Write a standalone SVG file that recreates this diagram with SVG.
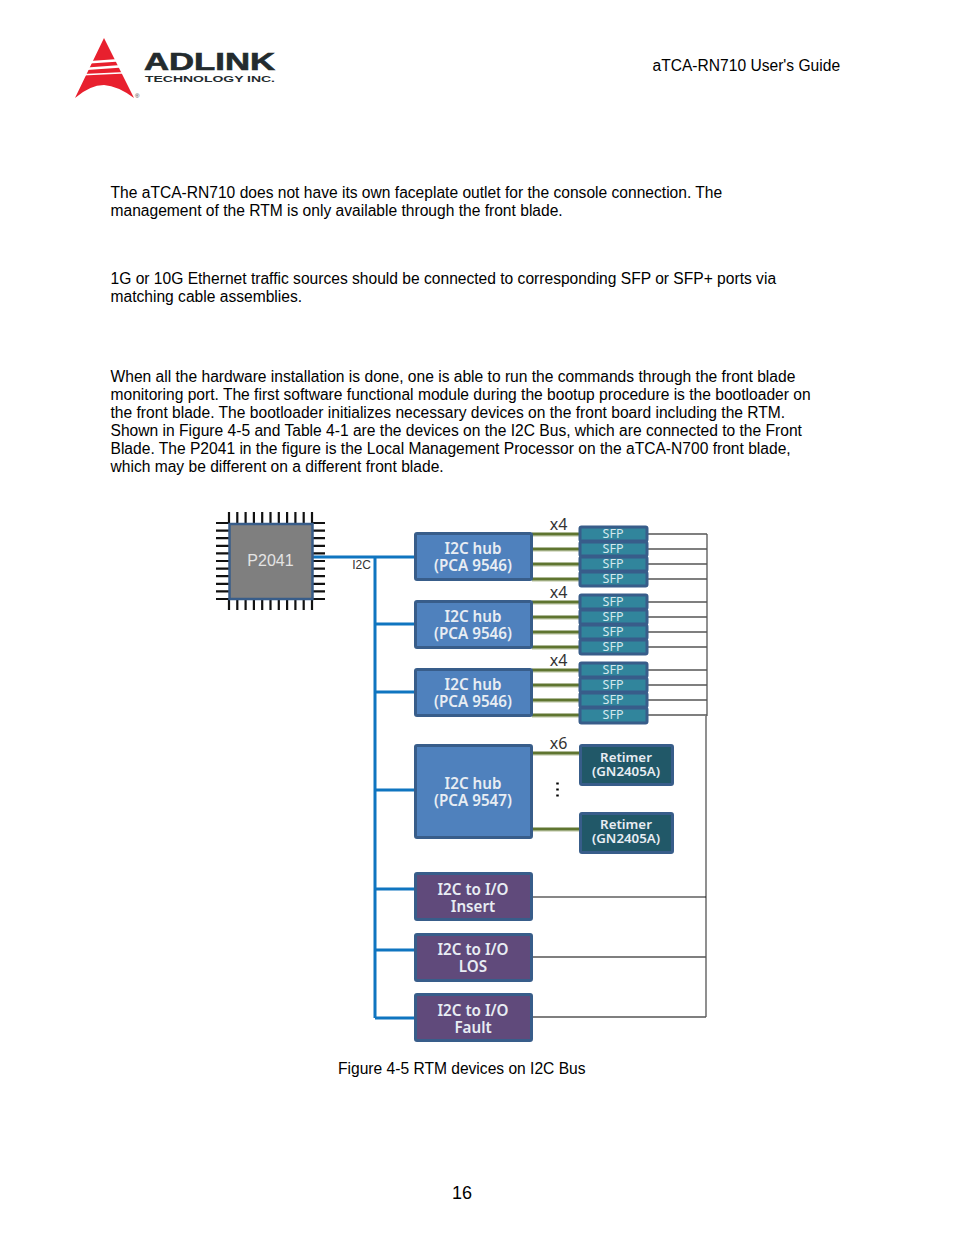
<svg xmlns="http://www.w3.org/2000/svg" width="954" height="1235" viewBox="0 0 954 1235">
<style>
text{font-family:"Liberation Sans",Arial,sans-serif}
.b{font-size:15.6px;fill:#000}
.d{font-family:"Noto Sans","DejaVu Sans",sans-serif;text-anchor:middle;font-weight:600;font-size:15.200px;fill:#e8edf3}
.r{font-size:13.300px}
.s{font-family:"Noto Sans","DejaVu Sans",sans-serif;text-anchor:middle;font-size:12.5px;fill:#d5e8ee}
.x{font-family:"Noto Sans","DejaVu Sans",sans-serif;font-size:16px;fill:#333;text-anchor:middle}
rect{rx:1.500px}
.hub{fill:#4f81bd;stroke:#385d8a;stroke-width:3}
.ret{fill:#215868;stroke:#385d8a;stroke-width:3}
.io{fill:#604a7b;stroke:#385d8a;stroke-width:3}
.sfp{fill:#31859c;stroke:#385d8a;stroke-width:3}
.blue{stroke:#0f75c0;stroke-width:3;fill:none}
.green{stroke:#5f7530;stroke-width:3;fill:none}
.shade{stroke:#cfd6bd;stroke-width:1.500;fill:none}
.gray{stroke:#555;stroke-width:1.3;fill:none}
.pin{stroke:#111;stroke-width:2.200;fill:none}
</style>
<rect width="954" height="1235" fill="#fff" style="rx:0"/>
<g id="logo">
<path d="M104 38L134 98Q118 86 104 85Q90 85 75 98Z" fill="#e8202e"/>
<path d="M90 61L118 59L119.500 61.500L90 63.500ZM87 67.500L121 65L122.500 67.500L87 70ZM83 74L125 72L125.800 73.500L83 75.500Z" fill="#fff"/>
<text x="144" y="70" font-size="24" font-weight="700" fill="#232b2e" textLength="131" lengthAdjust="spacingAndGlyphs" stroke="#232b2e" stroke-width=".6">ADLINK</text>
<text x="145" y="82" font-size="9" font-weight="700" fill="#232b2e" textLength="130" lengthAdjust="spacingAndGlyphs">TECHNOLOGY INC.</text>
<text x="135" y="98" font-size="6" fill="#333">®</text>
</g>
<g id="page-text">
<text class="b" x="652.500" y="70.500">aTCA-RN710 User's Guide</text>
<text class="b" x="110.500" y="197.500">The aTCA-RN710 does not have its own faceplate outlet for the console connection. The</text>
<text class="b" x="110.500" y="215.500">management of the RTM is only available through the front blade.</text>
<text class="b" x="110.500" y="283.500">1G or 10G Ethernet traffic sources should be connected to corresponding SFP or SFP+ ports via</text>
<text class="b" x="110.500" y="301.500">matching cable assemblies.</text>
<text class="b" x="110.500" y="381.500">When all the hardware installation is done, one is able to run the commands through the front blade</text>
<text class="b" x="110.500" y="399.500">monitoring port. The first software functional module during the bootup procedure is the bootloader on</text>
<text class="b" x="110.500" y="417.500">the front blade. The bootloader initializes necessary devices on the front board including the RTM.</text>
<text class="b" x="110.500" y="435.500">Shown in Figure 4-5 and Table 4-1 are the devices on the I2C Bus, which are connected to the Front</text>
<text class="b" x="110.500" y="453.500">Blade. The P2041 in the figure is the Local Management Processor on the aTCA-N700 front blade,</text>
<text class="b" x="110.500" y="471.500">which may be different on a different front blade.</text>
<text class="b" x="338" y="1074">Figure 4-5 RTM devices on I2C Bus</text>
<text x="452" y="1199" font-size="18">16</text>
</g>
<g id="connectors">
<path class="blue" d="M310 557H415M375 557V1018M375 624H415M375 692H415M375 790H415M375 889H415M375 950H415M375 1018H415"/>
<path class="shade" d="M532 536H579M532 551H579M532 566H579M532 581H579M532 604H579M532 619H579M532 634H579M532 649H579M532 672H579M532 687H579M532 702H579M532 717H579M532 755H579M532 831H579"/>
<path class="green" d="M532 534H579M532 549H579M532 564H579M532 579H579M532 602H579M532 617H579M532 632H579M532 647H579M532 670H579M532 685H579M532 700H579M532 715H579M532 753H579M532 829H579"/>
<path class="gray" d="M648 534H707M648 549H707M648 564H707M648 579H707M648 602H707M648 617H707M648 632H707M648 647H707M648 670H707M648 685H707M648 700H707M648 715H707M707 534V716M706 716V1017M532 957H706M532 1017H706"/>
<path d="M532 897H706" stroke="#111" stroke-width="1.200" fill="none"/>
<text class="x" x="558.500" y="530">x4</text>
<text class="x" x="558.500" y="598">x4</text>
<text class="x" x="558.500" y="666">x4</text>
<text class="x" x="558.500" y="749">x6</text>
<path d="M557.500 782.500v2M557.500 788.500v2M557.500 794.500v2" stroke="#000" stroke-width="2.500"/>
<text x="361.500" y="569" font-family="Noto Sans,sans-serif" font-size="12" fill="#333" text-anchor="middle">I2C</text>
</g>
<g id="p2041">
<path class="pin" d="M229 512V523M237.300 512V523M245.600 512V523M253.900 512V523M262.200 512V523M270.500 512V523M278.800 512V523M287.100 512V523M295.400 512V523M303.700 512V523M312 512V523M229 599V610M237.300 599V610M245.600 599V610M253.900 599V610M262.200 599V610M270.500 599V610M278.800 599V610M287.100 599V610M295.400 599V610M303.700 599V610M312 599V610M216 523H229M216 530.600H229M216 538.200H229M216 545.800H229M216 553.400H229M216 561H229M216 568.600H229M216 576.200H229M216 583.800H229M216 591.400H229M216 599H229M312 523H325M312 530.600H325M312 538.200H325M312 545.800H325M312 553.400H325M312 561H325M312 568.600H325M312 576.200H325M312 583.800H325M312 591.400H325M312 599H325"/>
<rect x="229.500" y="524" width="83" height="75" fill="#7f7f7f" stroke="#385d8a" stroke-width="2.500" style="rx:0"/>
<text x="270.500" y="566" font-family="Noto Sans,sans-serif" font-size="16" fill="#e4e4e4" text-anchor="middle">P2041</text>
</g>
<g id="hub1"><rect class="hub" x="415.500" y="533.500" width="116" height="46"/><text class="d" x="473" y="553.500">I2C hub</text><text class="d" x="473" y="570.500">(PCA 9546)</text></g>
<g id="hub2"><rect class="hub" x="415.500" y="601.500" width="116" height="46"/><text class="d" x="473" y="621.500">I2C hub</text><text class="d" x="473" y="638.500">(PCA 9546)</text></g>
<g id="hub3"><rect class="hub" x="415.500" y="669.500" width="116" height="46"/><text class="d" x="473" y="689.500">I2C hub</text><text class="d" x="473" y="706.500">(PCA 9546)</text></g>
<g id="hub4"><rect class="hub" x="415.500" y="745.500" width="116" height="92"/><text class="d" x="473" y="788.500">I2C hub</text><text class="d" x="473" y="805.500">(PCA 9547)</text></g>
<g id="sfp-group1">
<rect class="sfp" x="580" y="527" width="67" height="14"/><text class="s" x="613" y="538">SFP</text>
<rect class="sfp" x="580" y="542" width="67" height="14"/><text class="s" x="613" y="553">SFP</text>
<rect class="sfp" x="580" y="557" width="67" height="14"/><text class="s" x="613" y="568">SFP</text>
<rect class="sfp" x="580" y="572" width="67" height="14"/><text class="s" x="613" y="583">SFP</text>
</g>
<g id="sfp-group2">
<rect class="sfp" x="580" y="595" width="67" height="14"/><text class="s" x="613" y="606">SFP</text>
<rect class="sfp" x="580" y="610" width="67" height="14"/><text class="s" x="613" y="621">SFP</text>
<rect class="sfp" x="580" y="625" width="67" height="14"/><text class="s" x="613" y="636">SFP</text>
<rect class="sfp" x="580" y="640" width="67" height="14"/><text class="s" x="613" y="651">SFP</text>
</g>
<g id="sfp-group3">
<rect class="sfp" x="580" y="663" width="67" height="14"/><text class="s" x="613" y="674">SFP</text>
<rect class="sfp" x="580" y="678" width="67" height="14"/><text class="s" x="613" y="689">SFP</text>
<rect class="sfp" x="580" y="693" width="67" height="14"/><text class="s" x="613" y="704">SFP</text>
<rect class="sfp" x="580" y="708" width="67" height="15"/><text class="s" x="613" y="719">SFP</text>
</g>
<g id="retimer1"><rect class="ret" x="580.500" y="745.500" width="92" height="39"/><text class="d r" x="626" y="762">Retimer</text><text class="d r" x="626" y="776">(GN2405A)</text></g>
<g id="retimer2"><rect class="ret" x="580.500" y="813.500" width="92" height="39"/><text class="d r" x="626" y="829">Retimer</text><text class="d r" x="626" y="843">(GN2405A)</text></g>
<g id="io1"><rect class="io" x="415.500" y="873.500" width="116" height="46"/><text class="d" x="473" y="894.500">I2C to I/O</text><text class="d" x="473" y="911.500">Insert</text></g>
<g id="io2"><rect class="io" x="415.500" y="934.500" width="116" height="46"/><text class="d" x="473" y="954.500">I2C to I/O</text><text class="d" x="473" y="972">LOS</text></g>
<g id="io3"><rect class="io" x="415.500" y="994.500" width="116" height="46"/><text class="d" x="473" y="1015.500">I2C to I/O</text><text class="d" x="473" y="1032.500">Fault</text></g>
</svg>
